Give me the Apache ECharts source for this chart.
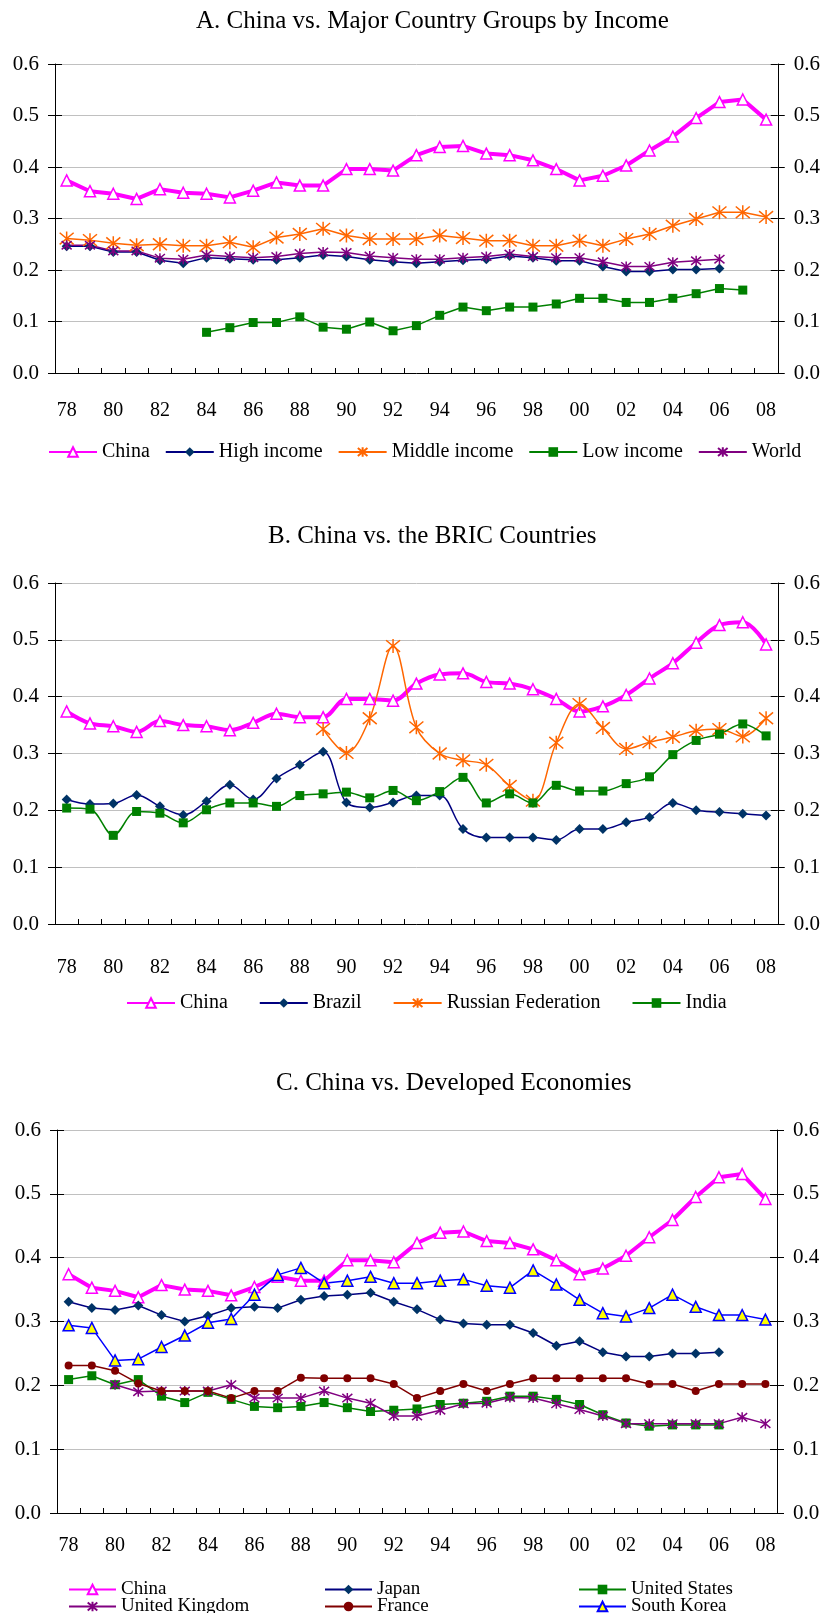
<!DOCTYPE html>
<html>
<head>
<meta charset="utf-8">
<script src="https://cdn.jsdelivr.net/npm/echarts@6/dist/echarts.min.js"></script>
<style>
  html, body { margin: 0; padding: 0; background: #fff; }
  #chart { width: 823px; height: 1613px; }
</style>
</head>
<body>
<div id="chart"></div>
<script>
// ---------- data ----------
var years = ['78','79','80','81','82','83','84','85','86','87','88','89','90','91','92','93','94','95','96','97','98','99','00','01','02','03','04','05','06','07','08'];
var yTicks = [0, 0.1, 0.2, 0.3, 0.4, 0.5, 0.6];

var china = [0.374,0.353,0.348,0.338,0.357,0.350,0.348,0.341,0.354,0.370,0.364,0.364,0.396,0.396,0.393,0.423,0.439,0.441,0.426,0.423,0.413,0.396,0.374,0.383,0.403,0.432,0.459,0.495,0.526,0.531,0.492];

// Panel A
var highIncome = [0.246,0.246,0.235,0.235,0.219,0.213,0.224,0.222,0.220,0.220,0.224,0.229,0.226,0.220,0.216,0.213,0.216,0.219,0.221,0.227,0.224,0.218,0.218,0.207,0.197,0.197,0.201,0.201,0.203,null,null];
var middleIncome = [0.261,0.258,0.252,0.248,0.250,0.247,0.247,0.254,0.244,0.263,0.270,0.280,0.267,0.260,0.260,0.260,0.267,0.262,0.257,0.257,0.247,0.247,0.257,0.247,0.260,0.270,0.286,0.299,0.312,0.312,0.303];
var lowIncome = [null,null,null,null,null,null,0.079,0.088,0.098,0.098,0.109,0.089,0.085,0.099,0.082,0.092,0.112,0.128,0.121,0.128,0.128,0.134,0.145,0.145,0.137,0.137,0.145,0.154,0.164,0.161,null];
var world = [0.248,0.248,0.237,0.237,0.223,0.221,0.229,0.226,0.224,0.226,0.232,0.235,0.234,0.227,0.224,0.221,0.221,0.224,0.226,0.231,0.226,0.224,0.224,0.216,0.207,0.207,0.215,0.218,0.221,null,null];

// Panel B
var brazil = [0.219,0.211,0.212,0.227,0.207,0.192,0.216,0.245,0.219,0.256,0.280,0.303,0.214,0.205,0.214,0.226,0.226,0.167,0.152,0.152,0.152,0.148,0.167,0.167,0.179,0.188,0.213,0.200,0.197,0.194,0.191];
var russia = [null,null,null,null,null,null,null,null,null,null,null,0.343,0.301,0.362,0.489,0.346,0.300,0.288,0.280,0.243,0.217,0.319,0.387,0.345,0.308,0.320,0.329,0.340,0.343,0.330,0.362];
var india = [0.204,0.202,0.156,0.198,0.195,0.178,0.201,0.213,0.213,0.207,0.226,0.229,0.232,0.222,0.235,0.217,0.233,0.258,0.213,0.229,0.213,0.244,0.234,0.234,0.247,0.259,0.298,0.323,0.334,0.352,0.331];

// Panel C
var japan = [0.331,0.321,0.318,0.325,0.310,0.300,0.309,0.321,0.323,0.321,0.334,0.340,0.342,0.345,0.331,0.319,0.303,0.297,0.295,0.295,0.282,0.262,0.269,0.252,0.245,0.245,0.250,0.250,0.252,null,null];
var unitedStates = [0.209,0.215,0.201,0.209,0.183,0.173,0.189,0.178,0.167,0.165,0.167,0.173,0.165,0.159,0.161,0.163,0.170,0.172,0.175,0.183,0.183,0.178,0.170,0.154,0.141,0.136,0.138,0.138,0.138,null,null];
var unitedKingdom = [null,null,0.201,0.190,0.191,0.191,0.191,0.201,0.180,0.180,0.180,0.191,0.180,0.172,0.152,0.152,0.161,0.171,0.172,0.181,0.180,0.171,0.162,0.152,0.140,0.140,0.140,0.140,0.140,0.150,0.140];
var france = [0.231,0.231,0.223,0.203,0.191,0.191,0.191,0.180,0.191,0.191,0.212,0.211,0.211,0.211,0.202,0.180,0.191,0.202,0.191,0.202,0.211,0.211,0.211,0.211,0.211,0.202,0.202,0.191,0.202,0.202,0.202];
var southKorea = [0.294,0.290,0.239,0.241,0.260,0.278,0.298,0.304,0.342,0.373,0.384,0.360,0.364,0.370,0.360,0.360,0.364,0.366,0.356,0.353,0.380,0.358,0.334,0.313,0.308,0.321,0.342,0.323,0.310,0.310,0.303];

var titles = ['A. China vs. Major Country Groups by Income', 'B. China vs. the BRIC Countries', 'C. China vs. Developed Economies'];

// ---------- styling ----------
var FONT = '"Liberation Serif", "Times New Roman", serif';
var STAR = 'path://M0,0 L10,10 M10,0 L0,10 M5,-1 L5,11';

var styles = {
  'China':              {color: '#FF00FF', width: 4,   symbol: 'triangle', size: 11, fill: '#FFFFFF', border: '#FF00FF', bw: 1.5},
  'High income':        {color: '#000080', width: 1.5, symbol: 'diamond',  size: 10, fill: '#003366', border: '#003366', bw: 0},
  'Middle income':      {color: '#FF6600', width: 1.5, symbol: STAR,       size: 14, fill: 'none',    border: '#FF6600', bw: 1.5},
  'Low income':         {color: '#008000', width: 1.5, symbol: 'rect',     size: 9,  fill: '#008000', border: '#008000', bw: 0},
  'World':              {color: '#800080', width: 1.5, symbol: STAR,       size: 10, fill: 'none',    border: '#800080', bw: 1.5},
  'Brazil':             {color: '#000080', width: 1.5, symbol: 'diamond',  size: 10, fill: '#003366', border: '#003366', bw: 0},
  'Russian Federation': {color: '#FF6600', width: 1.5, symbol: STAR,       size: 14, fill: 'none',    border: '#FF6600', bw: 1.5},
  'India':              {color: '#008000', width: 1.5, symbol: 'rect',     size: 9,  fill: '#008000', border: '#008000', bw: 0},
  'Japan':              {color: '#000080', width: 1.5, symbol: 'diamond',  size: 10, fill: '#003366', border: '#003366', bw: 0},
  'United States':      {color: '#008000', width: 1.5, symbol: 'rect',     size: 9,  fill: '#008000', border: '#008000', bw: 0},
  'United Kingdom':     {color: '#800080', width: 1.5, symbol: STAR,       size: 10, fill: 'none',    border: '#800080', bw: 1.5},
  'France':             {color: '#800000', width: 1.5, symbol: 'circle',   size: 8,  fill: '#800000', border: '#800000', bw: 0},
  'South Korea':        {color: '#0000FF', width: 1.5, symbol: 'triangle', size: 11, fill: '#FFFF00', border: '#0000FF', bw: 1.5}
};

var grids = [
  {left: 55, right: 45, top: 64, height: 309},
  {left: 55, right: 45, top: 583, height: 341},
  {left: 57, right: 46, top: 1130, height: 383}
];
var xLabelMargins = [28, 34, 23];

var xAxes = [], yAxes = [], series = [];

grids.forEach(function (g, i) {
  xAxes.push({
    type: 'category', gridIndex: i, data: years, boundaryGap: true,
    axisLine: {show: true, lineStyle: {color: '#000', width: 1}},
    axisTick: {show: true, inside: true, length: 5, interval: 0, lineStyle: {color: '#000'}},
    axisLabel: {interval: 1, margin: xLabelMargins[i], color: '#000', fontFamily: FONT, fontSize: 20},
    splitLine: {show: false}
  });
  var base = {
    type: 'value', gridIndex: i, min: yTicks[0], max: yTicks[yTicks.length - 1], interval: 0.1
  };
  yAxes.push(Object.assign({}, base, {
    position: 'left',
    axisLine: {show: true, lineStyle: {color: '#000'}},
    axisTick: {show: true, inside: false, length: 7, lineStyle: {color: '#000'}},
    axisLabel: {margin: 16, color: '#000', fontFamily: FONT, fontSize: 21, formatter: function (v) { return v.toFixed(1); }},
    splitLine: {show: true, lineStyle: {color: '#C0C0C0', width: 1}}
  }));
  yAxes.push(Object.assign({}, base, {
    position: 'left',
    axisLine: {show: false},
    axisTick: {show: true, inside: true, length: 7, lineStyle: {color: '#000'}},
    axisLabel: {show: false},
    splitLine: {show: false}
  }));
  yAxes.push(Object.assign({}, base, {
    position: 'right',
    axisLine: {show: true, lineStyle: {color: '#000'}},
    axisTick: {show: true, inside: false, length: 7, lineStyle: {color: '#000'}},
    axisLabel: {margin: 16, color: '#000', fontFamily: FONT, fontSize: 21, formatter: function (v) { return v.toFixed(1); }},
    splitLine: {show: false}
  }));
  yAxes.push(Object.assign({}, base, {
    position: 'right',
    axisLine: {show: false},
    axisTick: {show: true, inside: true, length: 7, lineStyle: {color: '#000'}},
    axisLabel: {show: false},
    splitLine: {show: false}
  }));
});

function addSeries(name, data, gridIdx, smooth) {
  var s = styles[name];
  series.push({
    type: 'line', name: name, data: data,
    xAxisIndex: gridIdx, yAxisIndex: gridIdx * 4,
    smooth: smooth ? 0.35 : false,
    connectNulls: false,
    symbol: s.symbol, symbolSize: s.size, showSymbol: true,
    lineStyle: {color: s.color, width: s.width},
    itemStyle: {color: s.fill, borderColor: s.border, borderWidth: s.bw},
    emphasis: {disabled: true},
    animation: false
  });
}

addSeries('China', china, 0, false);
addSeries('High income', highIncome, 0, false);
addSeries('Middle income', middleIncome, 0, false);
addSeries('Low income', lowIncome, 0, false);
addSeries('World', world, 0, false);

addSeries('China', china, 1, true);
addSeries('Brazil', brazil, 1, true);
addSeries('Russian Federation', russia, 1, true);
addSeries('India', india, 1, true);

addSeries('China', china, 2, false);
addSeries('Japan', japan, 2, false);
addSeries('United States', unitedStates, 2, false);
addSeries('United Kingdom', unitedKingdom, 2, false);
addSeries('France', france, 2, false);
addSeries('South Korea', southKorea, 2, false);

var legendText = {color: '#000', fontFamily: FONT, fontSize: 20};
var legendTextC = {color: '#000', fontFamily: FONT, fontSize: 19, lineHeight: 18};

function cLegend(name, left, top) {
  return {data: [name], left: left, top: top, itemWidth: 47, itemHeight: 12, itemGap: 0,
          textStyle: legendTextC, selectedMode: false, padding: 0};
}

var option = {
  backgroundColor: '#fff',
  animation: false,
  title: [
    {text: titles[0], left: 191, top: 4, textStyle: {fontFamily: FONT, fontSize: 25, fontWeight: 'normal', color: '#000'}},
    {text: titles[1], left: 263, top: 519, textStyle: {fontFamily: FONT, fontSize: 25, fontWeight: 'normal', color: '#000'}},
    {text: titles[2], left: 271, top: 1066, textStyle: {fontFamily: FONT, fontSize: 25, fontWeight: 'normal', color: '#000'}}
  ],
  legend: [
    {data: ['China','High income','Middle income','Low income','World'], left: 43, top: 437, itemWidth: 48, itemHeight: 12, itemGap: 15, textStyle: legendText, selectedMode: false},
    {data: ['China','Brazil','Russian Federation','India'], left: 121, top: 988, itemWidth: 48, itemHeight: 12, itemGap: 31, textStyle: legendText, selectedMode: false},
    cLegend('China', 68, 1580),
    cLegend('Japan', 324, 1580),
    cLegend('United States', 578, 1580),
    cLegend('United Kingdom', 68, 1597),
    cLegend('France', 324, 1597),
    cLegend('South Korea', 578, 1597)
  ],
  grid: grids,
  xAxis: xAxes,
  yAxis: yAxes,
  series: series
};

var chart = echarts.init(document.getElementById('chart'), null, {renderer: 'canvas'});
chart.setOption(option);
</script>
</body>
</html>
